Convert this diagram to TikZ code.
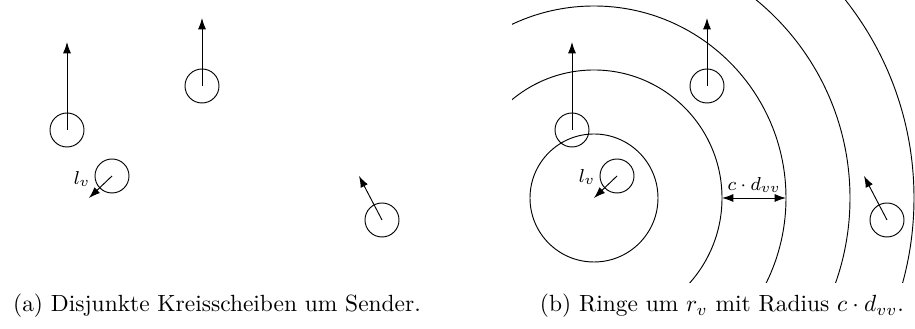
\documentclass[tikz,border=0pt]{standalone}
\usetikzlibrary{arrows.meta}

\tikzset{
  disc/.style={circle, draw, minimum size=5.1mm, inner sep=0pt},
  dir/.style={-{Latex[length=1.7mm, width=1.2mm]}},
  lbl/.style={font=\footnotesize, inner sep=1pt},
}

\begin{document}
\begin{tikzpicture}[x=0.15mm, y=0.15mm]
  \useasboundingbox (0,0) rectangle (915,329);
  % (a) senders with their disks and directions
  \node[disc] (a1) at (67,199) {};
  \node[disc] (a2) at (202,243) {};
  \node[disc] (a3) at (112,153) {};
  \node[disc] (a4) at (382,109) {};
  \coordinate (ta1) at (67,287);
  \coordinate (ta2) at (202,311);
  \coordinate (ta3) at (89,131);
  \coordinate (ta4) at (359,153);
  \foreach \i in {1,...,4} \draw[dir] (a\i.center) -- (ta\i);
  \node[lbl] (lva) at (82,150) {$l_v$};
  \node (capa) at (217,23) {(a) Disjunkte Kreisscheiben um Sender.};

  % (b) same senders, shifted to the right
  \begin{scope}[xshift=505*0.15mm]
    \node[disc] (b1) at (67,199) {};
    \node[disc] (b2) at (202,243) {};
    \node[disc] (b3) at (112,153) {};
    \node[disc] (b4) at (382,109) {};
    \coordinate (tb1) at (67,287);
    \coordinate (tb2) at (202,311);
    \coordinate (tb3) at (89,131);
    \coordinate (tb4) at (359,153);
    \foreach \i in {1,...,4} \draw[dir] (b\i.center) -- (tb\i);
    \node[lbl] (lvb) at (82,152) {$l_v$};
  \end{scope}
  % rings round r_v
  \coordinate (rv) at (594,131);
  \begin{scope}
    \clip (512,46) rectangle (915,329);
    \foreach \k in {1,...,5} \draw (rv) circle ({64*\k*0.15mm});
  \end{scope}
  \coordinate (r2) at (722,131);
  \coordinate (r3) at (786,131);
  \draw[{Latex[length=1.7mm, width=1.2mm]}-{Latex[length=1.7mm, width=1.2mm]}] (r2) -- node[lbl, above, inner sep=2pt] {$c\cdot d_{vv}$} (r3);
  \node (capb) at (722,23) {(b) Ringe um $r_v$ mit Radius $c\cdot d_{vv}$.};
\end{tikzpicture}
\end{document}
